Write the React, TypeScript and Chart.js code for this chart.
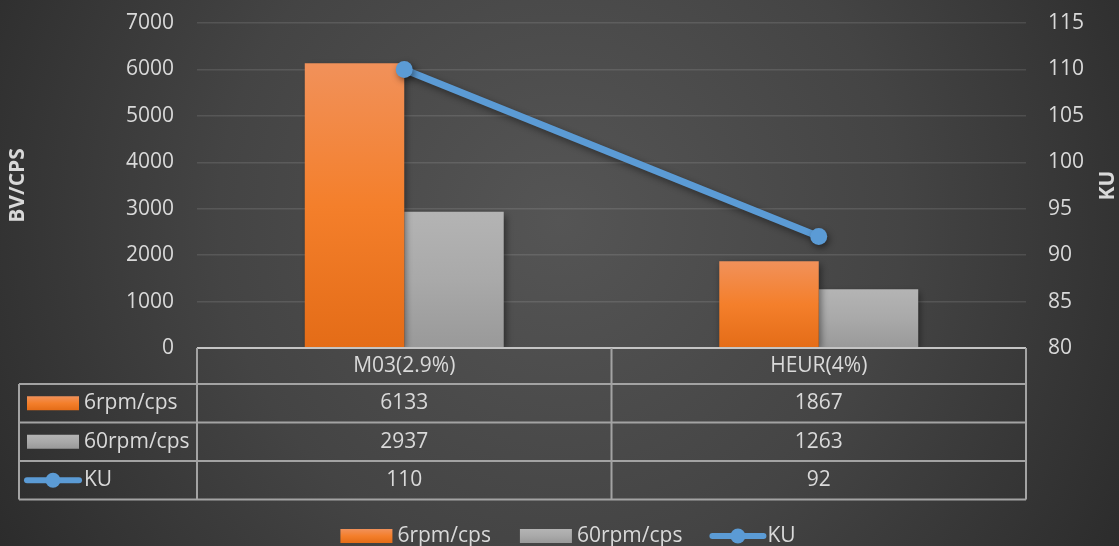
import React, { useEffect, useRef } from "react";
import { Chart, registerables } from "chart.js";

Chart.register(...registerables);

// ---- data ----
const categories = ["M03(2.9%)", "HEUR(4%)"];
const series6rpm = [6133, 1867];
const series60rpm = [2937, 1263];
const seriesKU = [110, 92];
const seriesLabels = ["6rpm/cps", "60rpm/cps", "KU"];
const leftTicks = { min: 0, max: 7000, step: 1000 };
const rightTicks = { min: 80, max: 115, step: 5 };
const leftAxisTitle = "BV/CPS";
const rightAxisTitle = "KU";

// ---- styles ----
const W = 1119;
const H = 546;
const FONT = "'Open Sans', 'Noto Sans', sans-serif";
const FS = 21;
const TEXT = "#d9d9d9";
const ORANGE = ["#f1915a", "#f47f2b", "#e46c17"];
const GRAY = ["#b4b4b4", "#a9a9a9", "#999999"];
const BLUE = "#5b9bd5";
const TABLE_LINE = "#a3a3a3";

function vGrad(ctx: CanvasRenderingContext2D, y0: number, y1: number, stops: string[]) {
  const g = ctx.createLinearGradient(0, y0, 0, y1);
  g.addColorStop(0, stops[0]);
  g.addColorStop(0.5, stops[1]);
  g.addColorStop(1, stops[2]);
  return g;
}

function barGradient(stops: string[]) {
  return (c: any) => {
    const chart = c.chart;
    const y = chart.scales && chart.scales.y;
    if (!y || c.raw == null) return stops[1];
    const yTop = y.getPixelForValue(c.raw);
    const yBot = y.getPixelForValue(0);
    if (!isFinite(yTop) || !isFinite(yBot) || yTop === yBot) return stops[1];
    return vGrad(chart.ctx, yTop, yBot, stops);
  };
}

const backgroundPlugin = {
  id: "bg",
  beforeDraw(chart: any) {
    const ctx = chart.ctx as CanvasRenderingContext2D;
    ctx.save();
    const g = ctx.createRadialGradient(560, 220, 0, 560, 220, 760);
    g.addColorStop(0, "#555555");
    g.addColorStop(0.45, "#444444");
    g.addColorStop(0.85, "#2c2c2c");
    g.addColorStop(1, "#272727");
    ctx.fillStyle = g;
    ctx.fillRect(0, 0, chart.width, chart.height);
    ctx.restore();
  },
};

const shadowPlugin = {
  id: "shadows",
  beforeDatasetDraw(chart: any) {
    const ctx = chart.ctx as CanvasRenderingContext2D;
    ctx.save();
    ctx.shadowColor = "rgba(0,0,0,0.45)";
    ctx.shadowBlur = 7;
    ctx.shadowOffsetX = 2;
    ctx.shadowOffsetY = 3;
  },
  afterDatasetDraw(chart: any) {
    chart.ctx.restore();
  },
};

function drawKey(ctx: CanvasRenderingContext2D, kind: number, x: number, cy: number, w: number) {
  if (kind === 0 || kind === 1) {
    ctx.fillStyle = vGrad(ctx, cy - 7, cy + 7, kind === 0 ? ORANGE : GRAY);
    ctx.fillRect(x, cy - 7, w, 14);
  } else {
    ctx.strokeStyle = BLUE;
    ctx.lineWidth = 6;
    ctx.lineCap = "round";
    ctx.beginPath();
    ctx.moveTo(x + 3, cy);
    ctx.lineTo(x + w - 3, cy);
    ctx.stroke();
    ctx.fillStyle = BLUE;
    ctx.beginPath();
    ctx.arc(x + w / 2, cy, 7.5, 0, Math.PI * 2);
    ctx.fill();
  }
}

const tablePlugin = {
  id: "dataTable",
  afterDraw(chart: any) {
    const ctx = chart.ctx as CanvasRenderingContext2D;
    const area = chart.chartArea;
    const xs = chart.scales.x;
    const n = categories.length;
    const colW = (area.right - area.left) / n;
    const labelLeft = 19;
    const top = area.bottom;
    const headerH = 36;
    const rowH = 38.5;
    const rows = chart.data.datasets.length;
    const bottom = top + headerH + rowH * rows;

    ctx.save();
    ctx.strokeStyle = "#c4c4c4";
    ctx.lineWidth = 2;
    ctx.beginPath();
    ctx.moveTo(area.left, top);
    ctx.lineTo(area.right, top);
    ctx.stroke();

    ctx.strokeStyle = TABLE_LINE;
    ctx.lineWidth = 2;
    ctx.beginPath();
    for (let r = 0; r <= rows; r++) {
      const y = top + headerH + r * rowH;
      ctx.moveTo(labelLeft, y);
      ctx.lineTo(area.right, y);
    }
    ctx.moveTo(labelLeft, top + headerH);
    ctx.lineTo(labelLeft, bottom);
    for (let c = 0; c <= n; c++) {
      const x = area.left + c * colW;
      ctx.moveTo(x, top);
      ctx.lineTo(x, bottom);
    }
    ctx.stroke();

    ctx.fillStyle = TEXT;
    ctx.font = `${FS}px ${FONT}`;
    ctx.textAlign = "center";
    ctx.textBaseline = "middle";
    for (let c = 0; c < n; c++) {
      const cx = xs.getPixelForValue(c);
      ctx.fillText(String(chart.data.labels[c]), cx, top + headerH / 2);
      chart.data.datasets.forEach((ds: any, r: number) => {
        ctx.fillStyle = TEXT;
        ctx.fillText(String(ds.data[c]), cx, top + headerH + r * rowH + rowH / 2);
      });
    }

    chart.data.datasets.forEach((ds: any, r: number) => {
      const cy = top + headerH + r * rowH + rowH / 2;
      if (r < 2) {
        drawKey(ctx, r, 27, cy, 52);
      } else {
        drawKey(ctx, r, 24, cy, 58);
      }
      ctx.fillStyle = TEXT;
      ctx.textAlign = "left";
      ctx.fillText(ds.label, 84, cy);
    });

    // bottom legend
    const ly = 536;
    const widths = chart.data.datasets.map((ds: any) => ctx.measureText(ds.label).width);
    const keyW = [52, 52, 57];
    const gapAfterKey = [5, 5, 1];
    const between = [29, 27];
    let total = 0;
    widths.forEach((w: number, i: number) => {
      total += keyW[i] + gapAfterKey[i] + w;
      if (i < between.length) total += between[i];
    });
    let x = 568 - total / 2;
    chart.data.datasets.forEach((ds: any, i: number) => {
      drawKey(ctx, i, x, ly, keyW[i]);
      x += keyW[i] + gapAfterKey[i];
      ctx.fillStyle = TEXT;
      ctx.textAlign = "left";
      ctx.fillText(ds.label, x, ly);
      x += widths[i] + (between[i] || 0);
    });

    // axis titles
    ctx.font = `bold ${FS}px ${FONT}`;
    ctx.textAlign = "center";
    const midY = (area.top + area.bottom) / 2;
    ctx.save();
    ctx.translate(18, midY);
    ctx.rotate(-Math.PI / 2);
    ctx.fillText(leftAxisTitle, 0, 0);
    ctx.restore();
    ctx.save();
    ctx.translate(1108, midY);
    ctx.rotate(-Math.PI / 2);
    ctx.fillText(rightAxisTitle, 0, 0);
    ctx.restore();

    ctx.restore();
  },
};

export default function App() {
  const ref = useRef<HTMLCanvasElement | null>(null);

  useEffect(() => {
    if (!ref.current) return;
    const chart = new Chart(ref.current, {
      type: "bar",
      data: {
        labels: categories,
        datasets: [
          {
            type: "bar",
            label: seriesLabels[0],
            data: series6rpm,
            yAxisID: "y",
            backgroundColor: barGradient(ORANGE) as any,
            borderWidth: 0,
            categoryPercentage: 0.48,
            barPercentage: 1,
            order: 1,
          },
          {
            type: "bar",
            label: seriesLabels[1],
            data: series60rpm,
            yAxisID: "y",
            backgroundColor: barGradient(GRAY) as any,
            borderWidth: 0,
            categoryPercentage: 0.48,
            barPercentage: 1,
            order: 1,
          },
          {
            type: "line",
            label: seriesLabels[2],
            data: seriesKU,
            yAxisID: "y1",
            borderColor: BLUE,
            backgroundColor: BLUE,
            borderWidth: 7,
            pointRadius: 8.5,
            pointHoverRadius: 8.5,
            pointBackgroundColor: BLUE,
            pointBorderWidth: 0,
            tension: 0,
            fill: false,
            order: 0,
          } as any,
        ],
      },
      options: {
        animation: false,
        responsive: false,
        devicePixelRatio: 1,
        layout: { padding: { top: 23, bottom: 198, left: 0, right: 0 } },
        plugins: {
          legend: { display: false },
          tooltip: { enabled: false },
          title: { display: false },
        },
        scales: {
          x: {
            type: "category",
            display: false,
            offset: true,
            grid: { display: false },
          },
          y: {
            position: "left",
            min: leftTicks.min,
            max: leftTicks.max,
            ticks: {
              stepSize: leftTicks.step,
              color: TEXT,
              font: { family: FONT, size: FS },
              padding: 23,
              callback: (v: any) => String(v),
            },
            grid: { color: "rgba(255,255,255,0.11)", lineWidth: 1.5, drawTicks: false },
            border: { display: false },
            afterFit: (s: any) => {
              s.width = 197;
              s.paddingTop = 0;
              s.paddingBottom = 0;
            },
          },
          y1: {
            position: "right",
            min: rightTicks.min,
            max: rightTicks.max,
            ticks: {
              stepSize: rightTicks.step,
              color: TEXT,
              font: { family: FONT, size: FS },
              padding: 22,
              callback: (v: any) => String(v),
            },
            grid: { display: false, drawTicks: false },
            border: { display: false },
            afterFit: (s: any) => {
              s.width = 93;
              s.paddingTop = 0;
              s.paddingBottom = 0;
            },
          },
        },
      },
      plugins: [backgroundPlugin, shadowPlugin, tablePlugin],
    });
    return () => chart.destroy();
  }, []);

  return (
    <div style={{ position: "fixed", left: 0, top: 0, width: W, height: H }}>
      <canvas ref={ref} width={W} height={H} style={{ width: W, height: H, display: "block" }} />
    </div>
  );
}
